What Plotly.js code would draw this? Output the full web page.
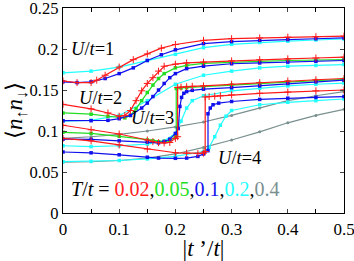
<!DOCTYPE html>
<html><head><meta charset="utf-8">
<script src="https://cdn.plot.ly/plotly-3.0.1.min.js"></script>
<style>html,body{margin:0;padding:0;background:#fff}#chart{width:354px;height:261px}</style>
</head><body><div id="chart"></div>
<script>
// U/t = 1
const u1_red_x  = [0,0.025,0.05,0.06,0.075,0.1,0.125,0.15,0.175,0.2,0.25,0.3,0.35,0.4,0.45,0.5];
const u1_red_y  = [0.161,0.159,0.159,0.162,0.168,0.178,0.187,0.194,0.201,0.2055,0.2105,0.2126,0.2135,0.2145,0.215,0.2157];
const u1_blue_x = [0,0.025,0.05,0.075,0.1,0.125,0.15,0.175,0.2,0.25,0.3,0.35,0.4,0.45,0.5];
const u1_blue_y = [0.160,0.159,0.160,0.164,0.170,0.177,0.186,0.193,0.199,0.2065,0.209,0.2105,0.2115,0.2125,0.2135];
const u1_cyan_x = [0,0.05,0.1,0.15,0.2,0.25,0.3,0.35,0.4,0.45,0.5];
const u1_cyan_y = [0.171,0.173,0.178,0.186,0.1935,0.2016,0.2057,0.208,0.2095,0.211,0.2122];
// U/t = 2
const u2_red_x  = [0,0.05,0.08,0.1,0.11,0.12,0.13,0.14,0.15,0.16,0.17,0.18,0.2,0.22,0.25,0.3,0.35,0.4,0.45,0.5];
const u2_red_y  = [0.1325,0.127,0.122,0.118,0.119,0.125,0.137,0.149,0.158,0.165,0.173,0.179,0.1815,0.183,0.184,0.1855,0.187,0.188,0.189,0.190];
const u2_green_x = [0,0.05,0.08,0.1,0.11,0.12,0.13,0.14,0.15,0.16,0.17,0.18,0.2,0.22,0.25,0.3,0.35,0.4,0.45,0.5];
const u2_green_y = [0.122,0.1205,0.118,0.117,0.116,0.119,0.127,0.137,0.147,0.156,0.164,0.170,0.177,0.180,0.1825,0.184,0.185,0.186,0.1865,0.187];
const u2_blue_x = [0,0.05,0.08,0.1,0.12,0.14,0.15,0.16,0.17,0.18,0.19,0.2,0.22,0.25,0.3,0.35,0.4,0.45,0.5];
const u2_blue_y = [0.1126,0.1126,0.113,0.115,0.119,0.128,0.134,0.142,0.150,0.158,0.165,0.170,0.176,0.179,0.182,0.183,0.184,0.185,0.186];
const u2_cyan_x = [0,0.05,0.1,0.15,0.2,0.25,0.3,0.35,0.4,0.45,0.5];
const u2_cyan_y = [0.112,0.113,0.119,0.137,0.157,0.168,0.173,0.177,0.179,0.180,0.181];
// U/t = 3
const u3_red_x  = [0,0.05,0.1,0.15,0.16,0.17,0.18,0.19,0.2,0.204,0.204,0.21,0.22,0.23,0.25,0.3,0.35,0.4,0.45,0.5];
const u3_red_y  = [0.107,0.1015,0.0963,0.089,0.087,0.0857,0.0855,0.086,0.091,0.093,0.153,0.1535,0.154,0.1545,0.155,0.157,0.159,0.161,0.1625,0.164];
const u3_green_x = [0,0.05,0.1,0.15,0.16,0.17,0.18,0.19,0.2,0.2015,0.2015,0.21,0.22,0.25,0.3,0.35,0.4,0.45,0.5];
const u3_green_y = [0.0984,0.097,0.0935,0.089,0.088,0.087,0.087,0.088,0.093,0.096,0.152,0.1525,0.153,0.154,0.156,0.158,0.160,0.1615,0.163];
const u3_blue_x = [0,0.05,0.1,0.15,0.17,0.18,0.19,0.2,0.205,0.208,0.211,0.215,0.22,0.23,0.25,0.3,0.35,0.4,0.45,0.5];
const u3_blue_y = [0.090,0.0898,0.088,0.0865,0.0855,0.087,0.09,0.097,0.103,0.130,0.141,0.146,0.148,0.1496,0.151,0.1528,0.155,0.158,0.160,0.162];
const u3_cyan_x = [0,0.05,0.1,0.15,0.18,0.2,0.21,0.22,0.23,0.25,0.3,0.35,0.4,0.45,0.5];
const u3_cyan_y = [0.082,0.081,0.082,0.084,0.088,0.097,0.112,0.128,0.137,0.143,0.149,0.152,0.155,0.157,0.1585];
const u3_gray_x = [0,0.05,0.1,0.15,0.2,0.25,0.3,0.35,0.4,0.45,0.5];
const u3_gray_y = [0.091,0.093,0.096,0.100,0.105,0.111,0.119,0.128,0.137,0.143,0.148];
// U/t = 4
const u4_red_x  = [0,0.05,0.1,0.15,0.2,0.22,0.24,0.25,0.253,0.253,0.26,0.27,0.28,0.3,0.35,0.4,0.45,0.5];
const u4_red_y  = [0.091,0.088,0.083,0.078,0.0735,0.073,0.0725,0.073,0.075,0.1415,0.142,0.1425,0.143,0.144,0.146,0.1475,0.149,0.150];
const u4_blue_x = [0,0.05,0.1,0.15,0.17,0.2,0.22,0.24,0.25,0.258,0.258,0.262,0.267,0.277,0.3,0.35,0.4,0.45,0.5];
const u4_blue_y = [0.0744,0.0734,0.071,0.068,0.067,0.0667,0.067,0.069,0.072,0.076,0.121,0.128,0.132,0.134,0.136,0.1385,0.140,0.141,0.142];
const u4_cyan_x = [0,0.05,0.1,0.15,0.2,0.25,0.26,0.27,0.28,0.29,0.3,0.35,0.4,0.45,0.5];
const u4_cyan_y = [0.0626,0.063,0.064,0.066,0.069,0.075,0.080,0.093,0.107,0.118,0.125,0.132,0.135,0.137,0.139];
const u4_gray_x = [0,0.05,0.1,0.15,0.2,0.25,0.3,0.35,0.4,0.45,0.5];
const u4_gray_y = [0.062,0.0625,0.064,0.067,0.072,0.080,0.089,0.099,0.110,0.119,0.1265];

const xTicks = [0,0.1,0.2,0.3,0.4,0.5];
const xTickText = ['0','0.1','0.2','0.3','0.4','0.5'];
const yTicks = [0,0.05,0.1,0.15,0.2,0.25];
const yTickText = ['0','0.05','0.1','0.15','0.2','0.25'];
const uLabels = ['<i>U</i>/<i>t</i>=1','<i>U</i>/<i>t</i>=2','<i>U</i>/<i>t</i>=3','<i>U</i>/<i>t</i>=4'];
const tempLabels = ['0.02','0.05','0.1','0.2','0.4'];

const C = {red:'#ff1a1a', green:'#22dd22', blue:'#1010ee', cyan:'#22ffff', gray:'#7a9090'};
function tr(x, y, col, kind){
  let marker;
  if (kind==='red') marker = {symbol:'cross-thin-open', size:5, line:{color:col, width:1}};
  else if (kind==='gray') marker = {symbol:'circle', size:3, color:col};
  else marker = {symbol:'square', size:3.5, color:col};
  return {x:x, y:y, type:'scatter', mode:'lines+markers', line:{color:col, width:1.2}, marker:marker, showlegend:false, hoverinfo:'skip'};
}
const data = [
  tr(u4_gray_x,u4_gray_y,C.gray,'gray'), tr(u3_gray_x,u3_gray_y,C.gray,'gray'),
  tr(u1_cyan_x,u1_cyan_y,C.cyan,'cyan'), tr(u2_cyan_x,u2_cyan_y,C.cyan,'cyan'),
  tr(u3_cyan_x,u3_cyan_y,C.cyan,'cyan'), tr(u4_cyan_x,u4_cyan_y,C.cyan,'cyan'),
  tr(u2_green_x,u2_green_y,C.green,'green'), tr(u3_green_x,u3_green_y,C.green,'green'),
  tr(u1_blue_x,u1_blue_y,C.blue,'blue'), tr(u2_blue_x,u2_blue_y,C.blue,'blue'),
  tr(u3_blue_x,u3_blue_y,C.blue,'blue'), tr(u4_blue_x,u4_blue_y,C.blue,'blue'),
  tr(u1_red_x,u1_red_y,C.red,'red'), tr(u2_red_x,u2_red_y,C.red,'red'),
  tr(u3_red_x,u3_red_y,C.red,'red'), tr(u4_red_x,u4_red_y,C.red,'red')
];
const F = 'Liberation Serif, Times New Roman, serif';
const tempText = '<i>T</i>/<i>t</i> = ' +
  '<span style="color:#ff1a1a">'+tempLabels[0]+'</span>,' +
  '<span style="color:#22dd22">'+tempLabels[1]+'</span>,' +
  '<span style="color:#1010ee">'+tempLabels[2]+'</span>,' +
  '<span style="color:#22ffff">'+tempLabels[3]+'</span>,' +
  '<span style="color:#7a9090">'+tempLabels[4]+'</span>';
const ann = (x,y,t,s)=>({xref:'paper', yref:'paper', x:x, y:y, text:t, showarrow:false, xanchor:'left', yanchor:'middle', font:{family:F, size:s, color:'#000'}});
const layout = {
  width:354, height:261,
  margin:{l:63, r:10, t:8, b:48},
  paper_bgcolor:'#fff', plot_bgcolor:'#fff',
  font:{family:F, size:17, color:'#000'},
  xaxis:{range:[0,0.5], tickvals:xTicks, ticktext:xTickText, ticks:'inside', ticklen:4, tickwidth:1,
    minor:{tickvals:[0.05,0.15,0.25,0.35,0.45], ticks:'inside', ticklen:4, tickcolor:'#000'},
    showline:true, linecolor:'#000', linewidth:1.3, mirror:'ticks', showgrid:false, zeroline:false,
    tickfont:{family:F, size:17}, ticklabeloverflow:'allow',
    title:{text:'|<i>t</i> \u2019/<i>t</i>|', font:{family:F, size:23}, standoff:0}},
  yaxis:{range:[0,0.25], tickvals:yTicks, ticktext:yTickText, ticks:'inside', ticklen:4, tickwidth:1,
    showline:true, linecolor:'#000', linewidth:1.3, mirror:'ticks', showgrid:false, zeroline:false,
    tickfont:{family:F, size:16.5}, ticklabeloverflow:'allow',
    title:{text:'\u27E8<i>n</i><sub>\u2191</sub><i>n</i><sub>\u2193</sub>\u27E9', font:{family:F, size:23}, standoff:0}},
  annotations:[
    ann(0.02, 0.80, uLabels[0], 18.5),
    ann(0.05, 0.56, uLabels[1], 18.5),
    ann(0.235, 0.465, uLabels[2], 18.5),
    ann(0.545, 0.27, uLabels[3], 18.5),
    ann(0.02, 0.115, tempText, 20)
  ]
};
Plotly.newPlot('chart', data, layout, {staticPlot:true, displayModeBar:false});
</script></body></html>
